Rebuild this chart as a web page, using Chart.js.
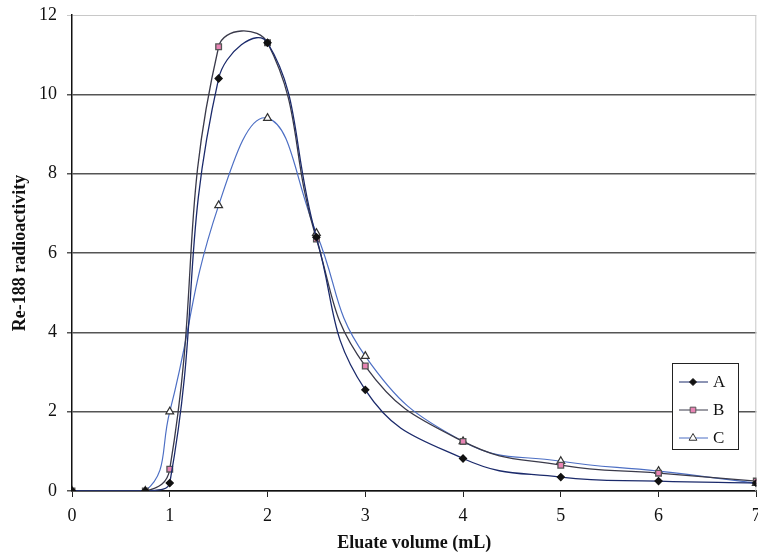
<!DOCTYPE html>
<html>
<head>
<meta charset="utf-8">
<script src="https://cdn.jsdelivr.net/npm/chart.js@4/dist/chart.umd.min.js"></script>
<style>
  html, body { margin: 0; padding: 0; background: #fff; overflow: hidden; }
  #wrap { width: 762px; height: 558px; }
</style>
</head>
<body>
<div id="wrap"><canvas id="elution"></canvas></div>
<script>
// volumenes de eluido (mL)
const volumes = [0, 0.75, 1, 1.5, 2, 2.5, 3, 4, 5, 6, 7];
const seriesA = [0, 0, 0.2, 10.4, 11.3, 6.4, 2.55, 0.82, 0.35, 0.25, 0.2];
const seriesB = [0, 0, 0.55, 11.2, 11.3, 6.35, 3.15, 1.25, 0.65, 0.45, 0.25];
const seriesC = [0, 0, 2.0, 7.2, 9.4, 6.5, 3.4, 1.25, 0.75, 0.5, 0.2];
const seriesNames = ['A', 'B', 'C'];
const yTicks = [0, 2, 4, 6, 8, 10, 12];

const toPoints = (vals) => vals.map((v, i) => ({ x: volumes[i], y: v }));

// leyenda en caja, dentro del area del grafico
const boxLegend = {
  id: 'boxLegend',
  afterDraw(chart) {
    const { ctx } = chart;
    const x0 = 672, y0 = 363, w = 66, h = 86;
    ctx.save();
    ctx.fillStyle = '#fff';
    ctx.fillRect(x0, y0, w, h);
    ctx.strokeStyle = '#222';
    ctx.lineWidth = 1;
    ctx.strokeRect(x0 + 0.5, y0 + 0.5, w, h);
    chart.data.datasets.forEach((ds, i) => {
      const cy = y0 + 19 + i * 28;
      ctx.strokeStyle = ds.borderColor;
      ctx.lineWidth = 1;
      ctx.beginPath();
      ctx.moveTo(x0 + 7, cy);
      ctx.lineTo(x0 + 36, cy);
      ctx.stroke();
      // marcador con sus colores
      ctx.fillStyle = ds.pointBackgroundColor;
      ctx.strokeStyle = ds.pointBorderColor;
      Chart.helpers.drawPoint(ctx, {
        pointStyle: ds.pointStyle,
        radius: ds.pointRadius,
        rotation: 0,
        borderWidth: 1
      }, x0 + 21, cy);
      ctx.font = '17px "Liberation Serif"';
      ctx.fillStyle = '#111';
      ctx.textBaseline = 'middle';
      ctx.fillText(ds.label, x0 + 41, cy + 1);
    });
    ctx.restore();
  }
};

const ctx = document.getElementById('elution').getContext('2d');
new Chart(ctx, {
  type: 'line',
  data: {
    datasets: [
      {
        label: seriesNames[0],
        data: toPoints(seriesA),
        borderColor: '#1b2a6b',
        borderWidth: 1.3,
        pointStyle: 'rectRot',
        pointRadius: 3.5,
        pointBackgroundColor: '#111',
        pointBorderColor: '#111',
        tension: 0.45
      },
      {
        label: seriesNames[1],
        data: toPoints(seriesB),
        borderColor: '#3a3a4a',
        borderWidth: 1.3,
        pointStyle: 'rect',
        pointRadius: 4,
        pointBackgroundColor: '#e884b4',
        pointBorderColor: '#555',
        tension: 0.45
      },
      {
        label: seriesNames[2],
        data: toPoints(seriesC),
        borderColor: '#4d6fc4',
        borderWidth: 1.2,
        pointStyle: 'triangle',
        pointRadius: 4.5,
        pointBackgroundColor: '#fff',
        pointBorderColor: '#333',
        tension: 0.45
      }
    ]
  },
  options: {
    responsive: true,
    maintainAspectRatio: false,
    animation: false,
    layout: { padding: { top: 15, right: 0, left: 0, bottom: 0 } },
    plugins: {
      legend: { display: false },
      tooltip: { enabled: false }
    },
    scales: {
      x: {
        type: 'linear',
        min: 0,
        max: 7,
        ticks: {
          stepSize: 1,
          color: '#111',
          font: { family: 'Liberation Serif', size: 18 },
          padding: 8
        },
        grid: {
          display: true,
          drawOnChartArea: false,
          drawTicks: true,
          tickLength: 6,
          color: '#222'
        },
        border: { color: '#111', width: 1.5 },
        title: {
          display: true,
          text: 'Eluate volume (mL)',
          color: '#111',
          font: { family: 'Liberation Serif', size: 18, weight: 'bold' },
          padding: { top: 0, bottom: 4 }
        },
        afterFit: (s) => { s.paddingRight = 0; s.paddingLeft = 0; s.height = 67; }
      },
      y: {
        min: 0,
        max: 12,
        afterBuildTicks: (s) => { s.ticks = yTicks.map(v => ({ value: v })); },
        ticks: {
          color: '#111',
          font: { family: 'Liberation Serif', size: 18 },
          padding: 10
        },
        grid: {
          color: (c) => c.tick.value === 12 ? '#c8c8c8' : '#555',
          lineWidth: (c) => c.tick.value === 12 ? 1 : 1.5,
          drawTicks: true,
          tickLength: 5
        },
        border: { color: '#111', width: 1.5 },
        title: {
          display: true,
          text: 'Re-188 radioactivity',
          color: '#111',
          font: { family: 'Liberation Serif', size: 18, weight: 'bold' },
          padding: { top: 10, bottom: 6 }
        },
        afterFit: (s) => { s.width = 72; s.paddingTop = 0; s.paddingBottom = 0; }
      }
    }
  },
  plugins: [{
    id: 'rightBorder',
    beforeDatasetsDraw(chart) {
      const { ctx, chartArea: a } = chart;
      ctx.save();
      ctx.strokeStyle = '#c8c8c8';
      ctx.lineWidth = 1;
      ctx.beginPath();
      ctx.moveTo(a.right - 0.5, a.top);
      ctx.lineTo(a.right - 0.5, a.bottom);
      ctx.stroke();
      ctx.restore();
    }
  }, boxLegend]
});
</script>
</body>
</html>
